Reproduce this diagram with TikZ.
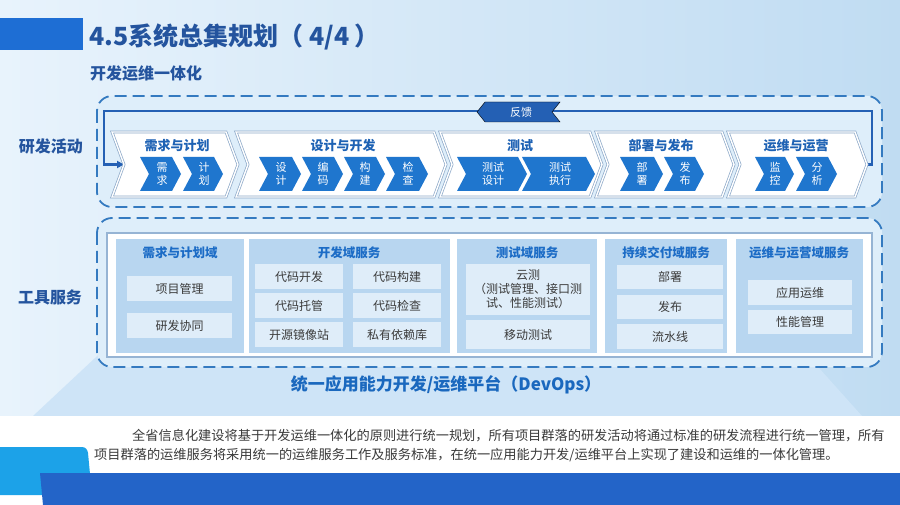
\documentclass[tikz,border=0pt]{standalone}
\usepackage{fontspec}
\setmainfont{Noto Sans CJK SC}
\usetikzlibrary{arrows.meta}
\definecolor{bgL}{RGB}{232,243,252}
\definecolor{bgR}{RGB}{192,220,242}
\definecolor{platfill}{RGB}{206,228,247}
\definecolor{titleblue}{RGB}{36,84,158}
\definecolor{stageblue}{RGB}{30,98,180}
\definecolor{chevblue}{RGB}{31,118,206}
\definecolor{dashblue}{RGB}{52,122,192}
\definecolor{fbblue}{RGB}{36,96,180}
\definecolor{boxfill}{RGB}{222,238,250}
\definecolor{stageborder}{RGB}{140,168,200}
\definecolor{frameborder}{RGB}{150,180,212}
\definecolor{colfill}{RGB}{184,214,240}
\definecolor{itemfill}{RGB}{223,237,249}
\definecolor{headblue}{RGB}{28,108,198}
\definecolor{platblue}{RGB}{26,104,190}
\definecolor{topbar}{RGB}{30,110,212}
\definecolor{botbar}{RGB}{35,100,200}
\definecolor{cyanbar}{RGB}{28,162,232}
\definecolor{textgray}{RGB}{58,58,58}
\newcommand{\chev}[6]{\draw[#6] (#1,#3) -- ({#2-#5},#3) -- (#2,{(#3+#4)/2}) -- ({#2-#5},#4) -- (#1,#4) -- ({#1+#5},{(#3+#4)/2}) -- cycle;}
\begin{document}
\begin{tikzpicture}[x=1pt,y=-1pt,
  dashbox/.style={draw=dashblue, line width=1.8pt, dash pattern=on 12pt off 6pt, rounded corners=15pt, fill=boxfill},
  stagebox/.style={draw=stageborder, line width=0.7pt, double=white, double distance=1.4pt, fill=white},
  chevbox/.style={fill=chevblue, draw=none},
  chevtext/.style={text=white, font=\fontsize{11}{13}\selectfont, align=center, inner sep=0pt},
  stagetitle/.style={text=stageblue, font=\fontsize{13}{15}\selectfont\bfseries},
  coltitle/.style={text=headblue, font=\fontsize{12.5}{15}\selectfont\bfseries},
  item/.style={fill=itemfill, text=textgray, font=\fontsize{12}{14}\selectfont, inner sep=0pt, align=center},
  sidelabel/.style={text=titleblue, font=\fontsize{16}{18}\selectfont\bfseries},
  fbline/.style={draw=fbblue, line width=2.2pt, -{Triangle[length=7pt,width=7pt]}},
  bodytext/.style={text=textgray, font=\fontsize{13.2}{16}\selectfont, anchor=west, inner sep=0pt}
]
\useasboundingbox (0,0) rectangle (900,505);
% background
\shade[left color=bgL, right color=bgR] (0,0) rectangle (900,505);
\fill[platfill] (125,330) -- (785,330) -- (862,416) -- (33,416) -- cycle;
\fill[white] (0,416) rectangle (900,505);
\fill[cyanbar] (0,447) -- (82,447) to[out=0,in=95] (88,453) -- (92,495) -- (0,495) -- cycle;
\fill[botbar] (40,473) -- (900,473) -- (900,505) -- (43,505) -- cycle;
\fill[topbar] (0,18) rectangle (83,50);
% titles
\node[anchor=west, inner sep=0pt, text=titleblue, font=\fontsize{25}{29}\selectfont\bfseries] (title) at (89,37) {4.5系统总集规划（ 4/4 ）};
\node[anchor=west, inner sep=0pt, text=titleblue, font=\fontsize{16}{18}\selectfont\bfseries] (subtitle) at (90,73) {开发运维一体化};
\node[sidelabel] (lblA) at (51,146) {研发活动};
\node[sidelabel] (lblB) at (50,297) {工具服务};
% dashed boxes
\draw[dashbox] (97,96) rectangle (882,207);
\draw[dashbox] (97,218) rectangle (882,367);
% feedback loop
\coordinate (s5tip) at (867,164.5);
\coordinate (fbR) at (872,111);
\coordinate (fbL) at (104,111);
\coordinate (s1notch) at (124,164.5);
\draw[fbline] (s5tip) -| (fbR) -- (fbL) |- (s1notch);
% stage chevrons
\chev{112}{238}{132}{197}{12}{stagebox}
\chev{236}{446}{132}{197}{12}{stagebox}
\chev{440}{602}{132}{197}{12}{stagebox}
\chev{596}{734}{132}{197}{12}{stagebox}
\chev{728}{867}{132}{197}{12}{stagebox}
\node[stagetitle] (t1) at (177,146) {需求与计划};
\node[stagetitle] (t2) at (343,146) {设计与开发};
\node[stagetitle] (t3) at (520,146) {测试};
\node[stagetitle] (t4) at (661,146) {部署与发布};
\node[stagetitle] (t5) at (796,146) {运维与运营};
% inner chevrons
\chev{140}{181}{157}{191}{9}{chevbox}
\chev{183}{223}{157}{191}{9}{chevbox}
\chev{259}{301}{157}{191}{9}{chevbox}
\chev{302}{343}{157}{191}{9}{chevbox}
\chev{344}{385}{157}{191}{9}{chevbox}
\chev{386}{428}{157}{191}{9}{chevbox}
\chev{457}{527}{157}{191}{9}{chevbox}
\chev{522}{595}{157}{191}{9}{chevbox}
\chev{620}{663}{157}{191}{9}{chevbox}
\chev{664}{704}{157}{191}{9}{chevbox}
\chev{755}{794}{157}{191}{9}{chevbox}
\chev{796}{837}{157}{191}{9}{chevbox}
\node[chevtext] (a1) at (162,174) {需\\求};
\node[chevtext] (a2) at (204,174) {计\\划};
\node[chevtext] (b1) at (281,174) {设\\计};
\node[chevtext] (b2) at (323,174) {编\\码};
\node[chevtext] (b3) at (365,174) {构\\建};
\node[chevtext] (b4) at (408,174) {检\\查};
\node[chevtext] (c1) at (493,174) {测试\\设计};
\node[chevtext] (c2) at (560,174) {测试\\执行};
\node[chevtext] (d1) at (642,174) {部\\署};
\node[chevtext] (d2) at (685,174) {发\\布};
\node[chevtext] (e1) at (775,174) {监\\控};
\node[chevtext] (e2) at (817,174) {分\\析};
% feedback label
\chev{485}{552}{102}{122}{-8}{fill=fbblue}
\node[chevtext] (fb) at (521,112) {反馈};
% tool services frame
\draw[fill=white, draw=frameborder, line width=1.5pt] (107,233) rectangle (872,357);
\fill[colfill] (116,239) rectangle (244,353);
\fill[colfill] (249,239) rectangle (450,353);
\fill[colfill] (457,239) rectangle (597,353);
\fill[colfill] (605,239) rectangle (727,353);
\fill[colfill] (736,239) rectangle (863,353);
\node[coltitle] (h1) at (180,253) {需求与计划域};
\node[coltitle] (h2) at (349,253) {开发域服务};
\node[coltitle] (h3) at (527,253) {测试域服务};
\node[coltitle] (h4) at (666,253) {持续交付域服务};
\node[coltitle] (h5) at (799,253) {运维与运营域服务};
% column 1
\node[item, minimum width=105pt, minimum height=25pt] (i11) at (179.5,288.5) {项目管理};
\node[item, minimum width=105pt, minimum height=25pt] (i12) at (179.5,325.5) {研发协同};
% column 2
\node[item, minimum width=88pt, minimum height=25pt] (i21) at (299,276.5) {代码开发};
\node[item, minimum width=88pt, minimum height=25pt] (i22) at (397,276.5) {代码构建};
\node[item, minimum width=88pt, minimum height=25pt] (i23) at (299,305.5) {代码托管};
\node[item, minimum width=88pt, minimum height=25pt] (i24) at (397,305.5) {代码检查};
\node[item, minimum width=88pt, minimum height=25pt] (i25) at (299,334.5) {开源镜像站};
\node[item, minimum width=88pt, minimum height=25pt] (i26) at (397,334.5) {私有依赖库};
% column 3
\node[item, minimum width=124pt, minimum height=51pt, font=\fontsize{12}{14}\selectfont] (i31) at (528,289.5) {云测\\（测试管理、接口测\\试、性能测试）};
\node[item, minimum width=124pt, minimum height=29pt] (i32) at (528,334.5) {移动测试};
% column 4
\node[item, minimum width=106pt, minimum height=24pt] (i41) at (670,277) {部署};
\node[item, minimum width=106pt, minimum height=24pt] (i42) at (670,307) {发布};
\node[item, minimum width=106pt, minimum height=25pt] (i43) at (670,336.5) {流水线};
% column 5
\node[item, minimum width=104pt, minimum height=25pt] (i51) at (800,292.5) {应用运维};
\node[item, minimum width=104pt, minimum height=24pt] (i52) at (800,322) {性能管理};
% platform label
\node[text=platblue, font=\fontsize{17}{20}\selectfont\bfseries] (plat) at (446,385) {统一应用能力开发/运维平台（DevOps）};
% body text
\node[bodytext] (p1) at (132,436) {全省信息化建设将基于开发运维一体化的原则进行统一规划，所有项目群落的研发活动将通过标准的研发流程进行统一管理，所有};
\node[bodytext] (p2) at (94,455) {项目群落的运维服务将采用统一的运维服务工作及服务标准，在统一应用能力开发/运维平台上实现了建设和运维的一体化管理。};
\end{tikzpicture}
\end{document}
